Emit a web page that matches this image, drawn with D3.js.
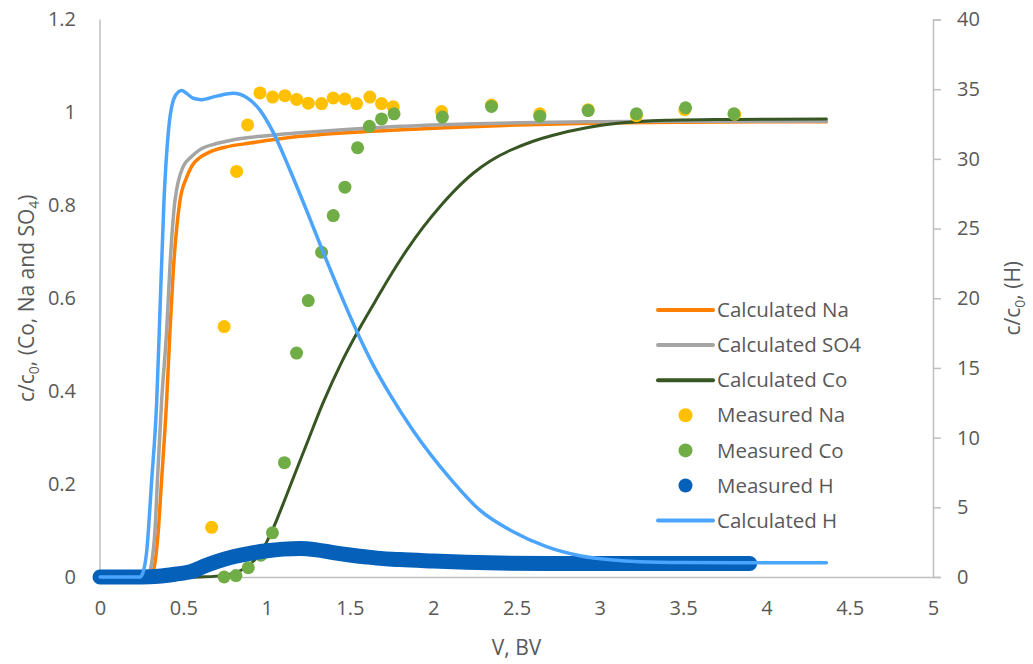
<!DOCTYPE html>
<html>
<head>
<meta charset="utf-8">
<script src="https://cdn.jsdelivr.net/npm/d3@7"></script>
<style>
  body { margin: 0; background: #fff; }
  text { font-family: "Open Sans", sans-serif; fill: #595959; }
</style>
</head>
<body>
<div id="chart"></div>
<script>
// ---- data ----
// calculated curves: [V (BV), c/c0]
const calcNa = [[0,0],[0.29,0],[0.31,0.005],[0.33,0.03],[0.35,0.1],[0.37,0.21],[0.40,0.38],[0.42,0.53],[0.44,0.66],[0.46,0.75],[0.48,0.81],[0.52,0.86],[0.55,0.884],[0.6,0.903],[0.66,0.915],[0.75,0.925],[0.9,0.934],[1.2,0.9486],[1.6,0.959],[2.0,0.966],[2.5,0.973],[3.0,0.977],[3.5,0.979],[4.36,0.98]];
const calcSO4 = [[0,0],[0.27,0],[0.29,0.005],[0.31,0.03],[0.33,0.1],[0.345,0.21],[0.37,0.38],[0.40,0.53],[0.42,0.67],[0.45,0.81],[0.5,0.884],[0.55,0.905],[0.6,0.92],[0.7,0.933],[0.8,0.941],[1.0,0.95],[1.2,0.956],[1.5,0.964],[1.8,0.970],[2.2,0.975],[2.52,0.978],[3.0,0.98],[3.5,0.981],[4.36,0.981]];
const calcCo = [[0,0],[0.6,0],[0.75,0.004],[0.85,0.015],[0.95,0.045],[1.0,0.075],[1.04,0.105],[1.1,0.158],[1.16,0.213],[1.25,0.295],[1.34,0.376],[1.45,0.462],[1.55,0.53],[1.65,0.592],[1.74,0.647],[1.84,0.703],[1.94,0.753],[2.04,0.797],[2.14,0.836],[2.24,0.869],[2.34,0.895],[2.46,0.918],[2.6,0.938],[2.72,0.951],[2.92,0.967],[3.12,0.977],[3.4,0.983],[3.8,0.985],[4.36,0.986]];
// calculated H, right axis
const calcH = [[0,0],[0.24,0],[0.26,0.4],[0.28,1.8],[0.31,6.9],[0.34,12.5],[0.356,17.7],[0.384,27],[0.41,31.9],[0.44,34.2],[0.47,34.8],[0.49,34.9],[0.52,34.7],[0.56,34.35],[0.61,34.25],[0.7,34.5],[0.8,34.7],[0.88,34.4],[0.96,33.5],[1.04,31.9],[1.14,29.2],[1.24,26.3],[1.34,23.3],[1.44,20.4],[1.55,17.4],[1.64,15.2],[1.74,13.1],[1.88,10.5],[2.1,7.1],[2.28,4.8],[2.48,3.25],[2.68,2.18],[2.88,1.53],[3.08,1.22],[3.24,1.1],[3.5,1.04],[4.0,1.02],[4.36,1.02]];
// measured points
const measNaV = [0.67,0.745,0.82,0.886,0.96,1.036,1.11,1.18,1.25,1.33,1.40,1.47,1.54,1.62,1.69,1.76,2.05,2.35,2.64,2.93,3.22,3.51,3.81];
const measNa  = [0.107,0.539,0.873,0.973,1.042,1.033,1.036,1.028,1.020,1.019,1.031,1.029,1.019,1.033,1.019,1.012,1.002,1.016,0.997,1.006,0.993,1.006,0.996];
const measCoV = [0.745,0.816,0.89,0.966,1.035,1.107,1.18,1.25,1.33,1.40,1.47,1.546,1.617,1.69,1.765,2.055,2.35,2.64,2.93,3.22,3.515,3.805];
const measCo  = [0.0,0.003,0.02,0.047,0.095,0.246,0.482,0.595,0.699,0.778,0.839,0.924,0.970,0.986,0.997,0.990,1.013,0.992,1.004,0.997,1.010,0.997];
// measured H (dense markers, right axis)
const measH = [[0,0],[0.25,0],[0.35,0.05],[0.45,0.2],[0.55,0.4],[0.62,0.75],[0.7,1.1],[0.8,1.45],[0.9,1.7],[1.0,1.88],[1.1,2.0],[1.2,2.05],[1.3,1.95],[1.4,1.75],[1.5,1.58],[1.6,1.44],[1.7,1.32],[1.8,1.25],[2.0,1.15],[2.2,1.06],[2.4,1.0],[2.7,0.97],[3.2,0.96],[3.9,0.97]];

const xTicks = [0,0.5,1,1.5,2,2.5,3,3.5,4,4.5,5];
const leftTicks = [0,0.2,0.4,0.6,0.8,1,1.2];
const rightTicks = [0,5,10,15,20,25,30,35,40];

const legendItems = [
  {name: "Calculated Na", type: "line", color: "#FF8000"},
  {name: "Calculated SO4", type: "line", color: "#A5A5A5"},
  {name: "Calculated Co", type: "line", color: "#375623"},
  {name: "Measured Na", type: "dot", color: "#FFC000"},
  {name: "Measured Co", type: "dot", color: "#70AD47"},
  {name: "Measured H", type: "dot", color: "#0560BA"},
  {name: "Calculated H", type: "line", color: "#4BA5FF"}
];

const width = 1033, height = 664;
const margin = {top: 19.5, right: 100, bottom: 87, left: 100};

const svg = d3.select("#chart")
  .append("svg")
  .attr("width", width)
  .attr("height", height);

const x = d3.scaleLinear().domain([0, 5]).range([margin.left, width - margin.right]);
const yL = d3.scaleLinear().domain([0, 1.2]).range([height - margin.bottom, margin.top]);
const yR = d3.scaleLinear().domain([0, 40]).range([height - margin.bottom, margin.top]);

const fmt = d3.format("~g");

// left axis (line only, no ticks)
const gL = svg.append("g")
  .attr("transform", `translate(${margin.left},0)`)
  .call(d3.axisLeft(yL).tickValues(leftTicks).tickSize(0).tickPadding(24).tickFormat(fmt));
// right axis with outward ticks
const gR = svg.append("g")
  .attr("transform", `translate(${width - margin.right},0)`)
  .call(d3.axisRight(yR).tickValues(rightTicks).tickSize(8).tickPadding(16).tickFormat(fmt));
// bottom axis
const gX = svg.append("g")
  .attr("transform", `translate(0,${height - margin.bottom})`)
  .call(d3.axisBottom(x).tickValues(xTicks).tickSize(0).tickPadding(24).tickFormat(fmt));

[gL, gR, gX].forEach(g => {
  g.select(".domain").attr("stroke", "#BFBFBF").attr("stroke-width", 1.5);
  g.selectAll(".tick line").attr("stroke", "#BFBFBF").attr("stroke-width", 1.5);
  g.selectAll(".tick text").attr("font-size", "20px").attr("fill", "#595959")
    .style("font-family", "'Open Sans', sans-serif");
});
gL.select(".domain").attr("d", `M0,${yL(0)}V${yL(1.2)}`);

// axis titles
svg.append("text")
  .attr("transform", `translate(34,${(yL(0) + yL(1.2)) / 2}) rotate(-90)`)
  .attr("text-anchor", "middle")
  .attr("font-size", "21px")
  .html('c/c<tspan font-size="14px" dy="5">0</tspan><tspan dy="-5">, (Co, Na and SO</tspan><tspan font-size="14px" dy="5">4</tspan><tspan dy="-5">)</tspan>');

svg.append("text")
  .attr("transform", `translate(1020,${(yR(0) + yR(40)) / 2}) rotate(-90)`)
  .attr("text-anchor", "middle")
  .attr("font-size", "21px")
  .html('c/c<tspan font-size="14px" dy="5">0</tspan><tspan dy="-5">, (H)</tspan>');

svg.append("text")
  .attr("x", (x(0) + x(5)) / 2)
  .attr("y", 655)
  .attr("text-anchor", "middle")
  .attr("font-size", "21px")
  .text("V, BV");

const lineL = d3.line().x(d => x(d[0])).y(d => yL(d[1])).curve(d3.curveMonotoneX);
const lineCo = d3.line().x(d => x(d[0])).y(d => yL(d[1])).curve(d3.curveCatmullRom.alpha(0.5));
const lineR = d3.line().x(d => x(d[0])).y(d => yR(d[1])).curve(d3.curveMonotoneX);

// primary axis series
svg.append("path").datum(calcNa).attr("d", lineL)
  .attr("fill", "none").attr("stroke", "#FF8000").attr("stroke-width", 3.5).attr("stroke-linecap", "round");
svg.append("path").datum(calcSO4).attr("d", lineL)
  .attr("fill", "none").attr("stroke", "#A5A5A5").attr("stroke-width", 3.5).attr("stroke-linecap", "round");
svg.append("path").datum(calcCo).attr("d", lineCo)
  .attr("fill", "none").attr("stroke", "#375623").attr("stroke-width", 3).attr("stroke-linecap", "round");

svg.append("g").selectAll("circle")
  .data(measNaV.map((v, i) => [v, measNa[i]]))
  .enter().append("circle")
  .attr("cx", d => x(d[0]))
  .attr("cy", d => yL(d[1]))
  .attr("r", 6.5)
  .attr("fill", "#FFC000");

svg.append("g").selectAll("circle")
  .data(measCoV.map((v, i) => [v, measCo[i]]))
  .enter().append("circle")
  .attr("cx", d => x(d[0]))
  .attr("cy", d => yL(d[1]))
  .attr("r", 6.5)
  .attr("fill", "#70AD47");

// secondary axis series
svg.append("path").datum(measH).attr("d", lineR)
  .attr("fill", "none").attr("stroke", "#0560BA").attr("stroke-width", 15)
  .attr("stroke-linecap", "round").attr("stroke-linejoin", "round");
svg.append("path").datum(calcH).attr("d", lineR)
  .attr("fill", "none").attr("stroke", "#4BA5FF").attr("stroke-width", 3.5).attr("stroke-linecap", "round");

// legend
const legend = svg.append("g").attr("transform", "translate(658,310)");
legendItems.forEach((item, i) => {
  const row = legend.append("g").attr("transform", `translate(0,${i * 35.1})`);
  if (item.type === "line") {
    row.append("line").attr("x1", 0).attr("x2", 55).attr("y1", 0).attr("y2", 0)
      .attr("stroke", item.color).attr("stroke-width", 4).attr("stroke-linecap", "round");
  } else {
    row.append("circle").attr("cx", 27.5).attr("cy", 0).attr("r", 7).attr("fill", item.color);
  }
  row.append("text").attr("x", 59).attr("y", 0).attr("dy", "0.35em")
    .attr("font-size", "20.5px").text(item.name);
});
</script>
</body>
</html>
